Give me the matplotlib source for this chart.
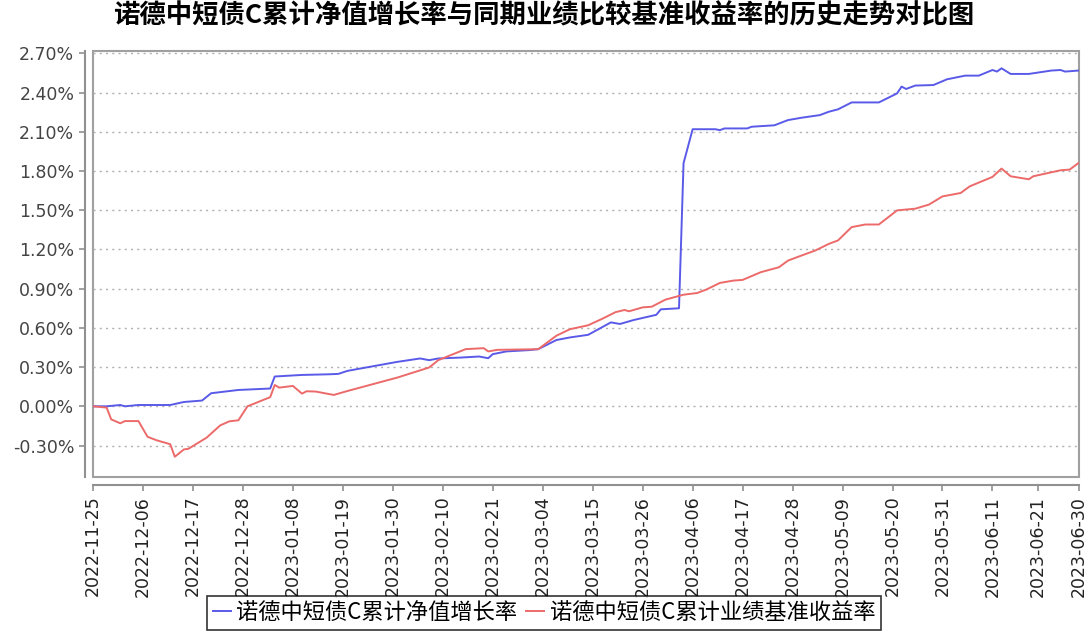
import pandas as pd
import matplotlib.pyplot as plt
import matplotlib.dates as mdates
from matplotlib.patches import Rectangle
from matplotlib.ticker import FuncFormatter

plt.rcParams['font.family'] = ['Noto Sans CJK SC', 'DejaVu Sans']

title = '诺德中短债C累计净值增长率与同期业绩比较基准收益率的历史走势对比图'
nav_label = '诺德中短债C累计净值增长率'
bench_label = '诺德中短债C累计业绩基准收益率'

# values in %
nav_dates = ['2022-11-25', '2022-11-28', '2022-12-01', '2022-12-02', '2022-12-05', '2022-12-12',
             '2022-12-15', '2022-12-19', '2022-12-21', '2022-12-27', '2023-01-03', '2023-01-04',
             '2023-01-10', '2023-01-16', '2023-01-18', '2023-01-20', '2023-01-23', '2023-01-31',
             '2023-02-05', '2023-02-07', '2023-02-09', '2023-02-14', '2023-02-18', '2023-02-20',
             '2023-02-21', '2023-02-24', '2023-03-01', '2023-03-03', '2023-03-07', '2023-03-10',
             '2023-03-14', '2023-03-19', '2023-03-21', '2023-03-24', '2023-03-29', '2023-03-30',
             '2023-04-03', '2023-04-04', '2023-04-06', '2023-04-11', '2023-04-12', '2023-04-13',
             '2023-04-18', '2023-04-19', '2023-04-24', '2023-04-27', '2023-04-30', '2023-05-04',
             '2023-05-06', '2023-05-08', '2023-05-11', '2023-05-17', '2023-05-21', '2023-05-22',
             '2023-05-23', '2023-05-25', '2023-05-29', '2023-06-01', '2023-06-05', '2023-06-08',
             '2023-06-11', '2023-06-12', '2023-06-13', '2023-06-15', '2023-06-19', '2023-06-24',
             '2023-06-26', '2023-06-27', '2023-06-30']
nav_values = [0.0, 0.0, 0.01, 0.0, 0.01, 0.01,
              0.033, 0.044, 0.10, 0.125, 0.136, 0.228,
              0.24, 0.245, 0.248, 0.271, 0.29, 0.34,
              0.366, 0.353, 0.366, 0.373, 0.381, 0.368,
              0.399, 0.42, 0.43, 0.437, 0.507, 0.527,
              0.547, 0.642, 0.63, 0.66, 0.70, 0.742,
              0.75, 1.86, 2.12, 2.12, 2.113, 2.126,
              2.126, 2.139, 2.15, 2.19, 2.208, 2.228,
              2.254, 2.272, 2.325, 2.325, 2.394, 2.446,
              2.428, 2.454, 2.458, 2.502, 2.53, 2.53,
              2.573, 2.561, 2.586, 2.543, 2.543, 2.569,
              2.573, 2.561, 2.569]

bench_dates = ['2022-11-25', '2022-11-28', '2022-11-29', '2022-12-01', '2022-12-02', '2022-12-05',
               '2022-12-07', '2022-12-09', '2022-12-12', '2022-12-13', '2022-12-15', '2022-12-16',
               '2022-12-20', '2022-12-23', '2022-12-25', '2022-12-27', '2022-12-29', '2023-01-03',
               '2023-01-04', '2023-01-05', '2023-01-08', '2023-01-10', '2023-01-11', '2023-01-13',
               '2023-01-17', '2023-01-20', '2023-01-31', '2023-02-07', '2023-02-09', '2023-02-15',
               '2023-02-19', '2023-02-20', '2023-02-22', '2023-03-03', '2023-03-07', '2023-03-10',
               '2023-03-14', '2023-03-17', '2023-03-20', '2023-03-22', '2023-03-23', '2023-03-26',
               '2023-03-28', '2023-03-31', '2023-04-04', '2023-04-07', '2023-04-09', '2023-04-12',
               '2023-04-15', '2023-04-17', '2023-04-21', '2023-04-25', '2023-04-27', '2023-04-30',
               '2023-05-03', '2023-05-06', '2023-05-08', '2023-05-11', '2023-05-14', '2023-05-17',
               '2023-05-21', '2023-05-25', '2023-05-28', '2023-05-31', '2023-06-04', '2023-06-06',
               '2023-06-11', '2023-06-13', '2023-06-15', '2023-06-19', '2023-06-20', '2023-06-26',
               '2023-06-28', '2023-06-30']
bench_values = [0.0, -0.01, -0.10, -0.13, -0.113, -0.113,
                -0.233, -0.26, -0.29, -0.386, -0.33, -0.325,
                -0.24, -0.146, -0.115, -0.107, 0.0, 0.07,
                0.163, 0.143, 0.156, 0.097, 0.115, 0.113,
                0.087, 0.117, 0.22, 0.297, 0.353, 0.437,
                0.445, 0.42, 0.432, 0.437, 0.54, 0.59,
                0.62, 0.668, 0.72, 0.737, 0.727, 0.757,
                0.762, 0.816, 0.854, 0.867, 0.893, 0.944,
                0.962, 0.967, 1.026, 1.064, 1.115, 1.154,
                1.192, 1.243, 1.269, 1.371, 1.391, 1.391,
                1.499, 1.512, 1.543, 1.606, 1.632, 1.683,
                1.755, 1.819, 1.76, 1.737, 1.76, 1.806,
                1.811, 1.863]

tick_dates = ['2022-11-25', '2022-12-06', '2022-12-17', '2022-12-28', '2023-01-08', '2023-01-19',
              '2023-01-30', '2023-02-10', '2023-02-21', '2023-03-04', '2023-03-15', '2023-03-26',
              '2023-04-06', '2023-04-17', '2023-04-28', '2023-05-09', '2023-05-20', '2023-05-31',
              '2023-06-11', '2023-06-21', '2023-06-30']
y_ticks = [-0.30, 0.0, 0.30, 0.60, 0.90, 1.20, 1.50, 1.80, 2.10, 2.40, 2.70]

fig = plt.figure(figsize=(10.88, 6.35), dpi=100)
ax = fig.add_axes([0.0855, 0.249, 0.906, 0.671])

ax.plot(pd.to_datetime(nav_dates), nav_values, color='#5a5ae8', lw=1.4, label=nav_label)
ax.plot(pd.to_datetime(bench_dates), bench_values, color='#ec6a6a', lw=1.4, label=bench_label)

ax.set_xlim(pd.Timestamp('2022-11-25'), pd.Timestamp('2023-06-30'))
ax.set_ylim(-0.54, 2.72)
ax.set_yticks(y_ticks)
ax.yaxis.set_major_formatter(FuncFormatter(lambda v, p: f'{v:.2f}%'))
ax.set_xticks(pd.to_datetime(tick_dates))
ax.xaxis.set_major_formatter(mdates.DateFormatter('%Y-%m-%d'))

ax.grid(axis='y', linestyle=(0, (1.5, 3)), color='#b0b0b0', lw=1)
ax.grid(axis='x', visible=False)

for side in ['top', 'right']:
    ax.spines[side].set_visible(False)
for side in ['left', 'bottom']:
    ax.spines[side].set_position(('outward', 6))
    ax.spines[side].set_color('#909090')
    ax.spines[side].set_linewidth(1.5)
ax.tick_params(axis='both', colors='#909090', length=4, width=1.2)
ax.tick_params(axis='x', labelcolor='#222222', labelrotation=90, labelsize=12.5)
ax.tick_params(axis='y', labelcolor='#444444', labelsize=12.5)
for lbl in ax.get_xticklabels() + ax.get_yticklabels():
    lbl.set_family('DejaVu Sans')
ax.add_patch(Rectangle((0, 0), 1, 1, transform=ax.transAxes, fill=False,
                       edgecolor='#a0a0a0', lw=1.5, clip_on=False))

fig.suptitle(title, x=0.5, y=0.997, fontsize=19, fontweight='bold')

leg = fig.legend(loc='upper center', bbox_to_anchor=(0.5, 0.062), ncol=2, fontsize=16,
                 frameon=True, fancybox=False, edgecolor='black', handlelength=0.8,
                 columnspacing=0.4, handletextpad=0.25, borderpad=0.25, borderaxespad=0)
leg.get_frame().set_linewidth(1.2)

fig.savefig('out.png', dpi=100)
